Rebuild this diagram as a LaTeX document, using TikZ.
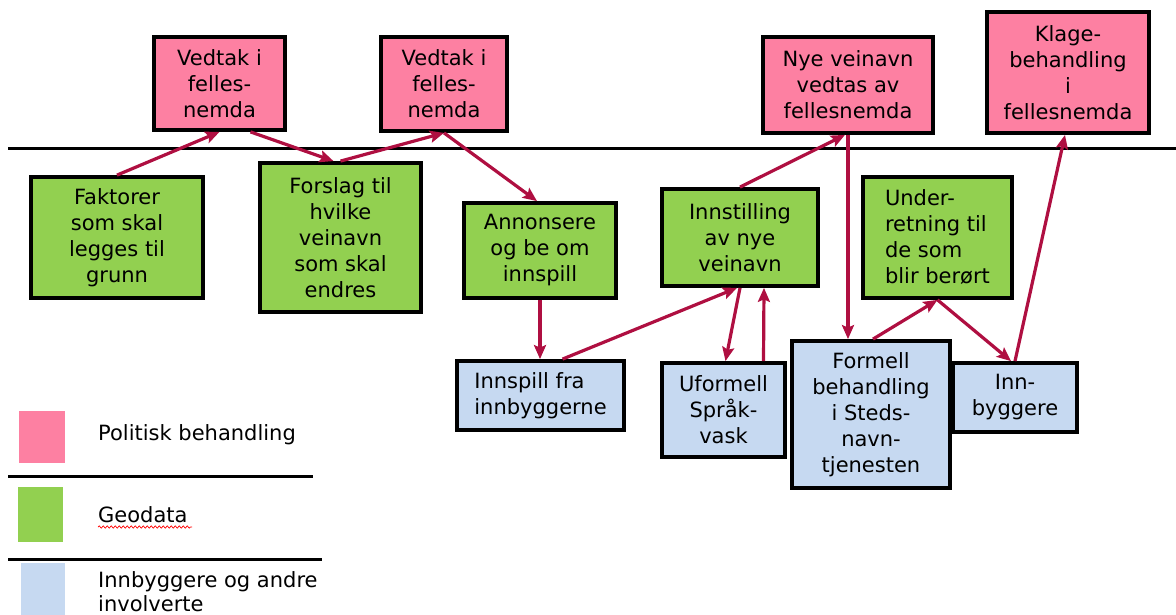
\documentclass[tikz,border=0pt]{standalone}
\usepackage{fontspec}
\setmainfont{DejaVu Sans}
\usetikzlibrary{arrows.meta,decorations.pathmorphing}
\definecolor{pinkfill}{RGB}{253,128,162}
\definecolor{greenfill}{RGB}{146,208,80}
\definecolor{bluefill}{RGB}{198,217,241}
\definecolor{arrowred}{RGB}{175,15,65}
\tikzset{
  box/.style={draw=black, line width=3.8pt, inner sep=0pt, align=center,
    font=\fontsize{21}{26}\selectfont},
  pol/.style={box, fill=pinkfill},
  geo/.style={box, fill=greenfill},
  inv/.style={box, fill=bluefill},
  conn/.style={draw=arrowred, line width=3.2pt,
    -{Stealth[length=14pt,width=12pt,inset=2.5pt]}},
  legtext/.style={anchor=west, inner sep=0pt, align=left,
    font=\fontsize{21}{23.5}\selectfont},
  sepline/.style={line width=3pt, black},
}
\begin{document}
\begin{tikzpicture}[x=1pt,y=-1pt]
\useasboundingbox (0,0) rectangle (1176,615);
% separator line
\draw[sepline] (8,149) -- (1176,149);
% political boxes
\node[pol, minimum width=131pt, minimum height=93pt] (V1) at (219.5,83.5) {Vedtak i\\felles-\\nemda};
\node[pol, minimum width=126pt, minimum height=94pt] (V2) at (444,84) {Vedtak i\\felles-\\nemda};
\node[pol, minimum width=170pt, minimum height=96pt] (Nye) at (848,85) {Nye veinavn\\vedtas av\\fellesnemda};
\node[pol, minimum width=162pt, minimum height=121pt] (Klage) at (1068,72.5) {Klage-\\behandling\\i\\fellesnemda};
% geodata boxes
\node[geo, minimum width=172pt, minimum height=121pt] (Fak) at (117,237.5) {Faktorer\\som skal\\legges til\\grunn};
\node[geo, minimum width=161pt, minimum height=149pt] (For) at (340.5,237.5) {Forslag til\\hvilke\\veinavn\\som skal\\endres};
\node[geo, minimum width=152pt, minimum height=95pt] (Ann) at (540,250.5) {Annonsere\\og be om\\innspill};
\node[geo, minimum width=156pt, minimum height=97pt] (Inn) at (740,237.5) {Innstilling\\av nye\\veinavn};
\node[geo, minimum width=149pt, minimum height=121pt, align=left] (Und) at (937.5,237.5) {Under-\\retning til\\de som\\blir berørt};
% involved boxes
\node[inv, minimum width=167pt, minimum height=69pt, align=left] (Isp) at (540.5,395.5) {Innspill fra\\innbyggerne};
\node[inv, minimum width=123pt, minimum height=94pt] (Ufo) at (723.5,410) {Uformell\\Språk-\\vask};
\node[inv, minimum width=158pt, minimum height=147pt] (Frm) at (871,414.5) {Formell\\behandling\\i Steds-\\navn-\\tjenesten};
\node[inv, minimum width=124pt, minimum height=69pt] (Iby) at (1015,397.5) {Inn-\\byggere};
% connectors
\draw[conn] (Fak.north) -- (V1.south);
\draw[conn] ([xshift=31pt]V1.south) -- ([xshift=-7pt]For.north);
\draw[conn] (For.north) -- (V2.south);
\draw[conn] (V2.south) -- ([xshift=-3pt]Ann.north);
\draw[conn] (Ann.south) -- (Ann.south |- Isp.north);
\draw[conn] ([xshift=22pt]Isp.north) -- ([xshift=-3pt]Inn.south);
\draw[conn] (Inn.south) -- ([xshift=2pt]Ufo.north);
\draw[conn] ([xshift=40pt]Ufo.north) -- ([xshift=24pt]Inn.south);
\draw[conn] (Inn.north) -- ([xshift=-3pt]Nye.south);
\draw[conn] (Nye.south) -- (Nye.south |- Frm.north);
\draw[conn] ([xshift=2pt]Frm.north) -- (Und.south);
\draw[conn] (Und.south) -- ([xshift=-4pt]Iby.north);
\draw[conn] (Iby.north) -- ([xshift=-3pt]Klage.south);
% legend
\fill[pinkfill] (19,411) rectangle (65,463);
\node[legtext] (LPol) at (98,435) {Politisk behandling};
\draw[sepline] (8,476) -- (313,476);
\fill[greenfill] (18,487) rectangle (63,542);
\node[legtext] (LGeo) at (98,515) {Geodata};
\draw[red, line width=0.7pt, decorate, decoration={snake, amplitude=1.1pt, segment length=4pt}] (98,527) -- (192,527);
\draw[sepline] (8,559) -- (322,559);
\fill[bluefill] (21,563) rectangle (65,615);
\node[legtext] (LInv) at (98,591.5) {Innbyggere og andre\\involverte};
\end{tikzpicture}
\end{document}
